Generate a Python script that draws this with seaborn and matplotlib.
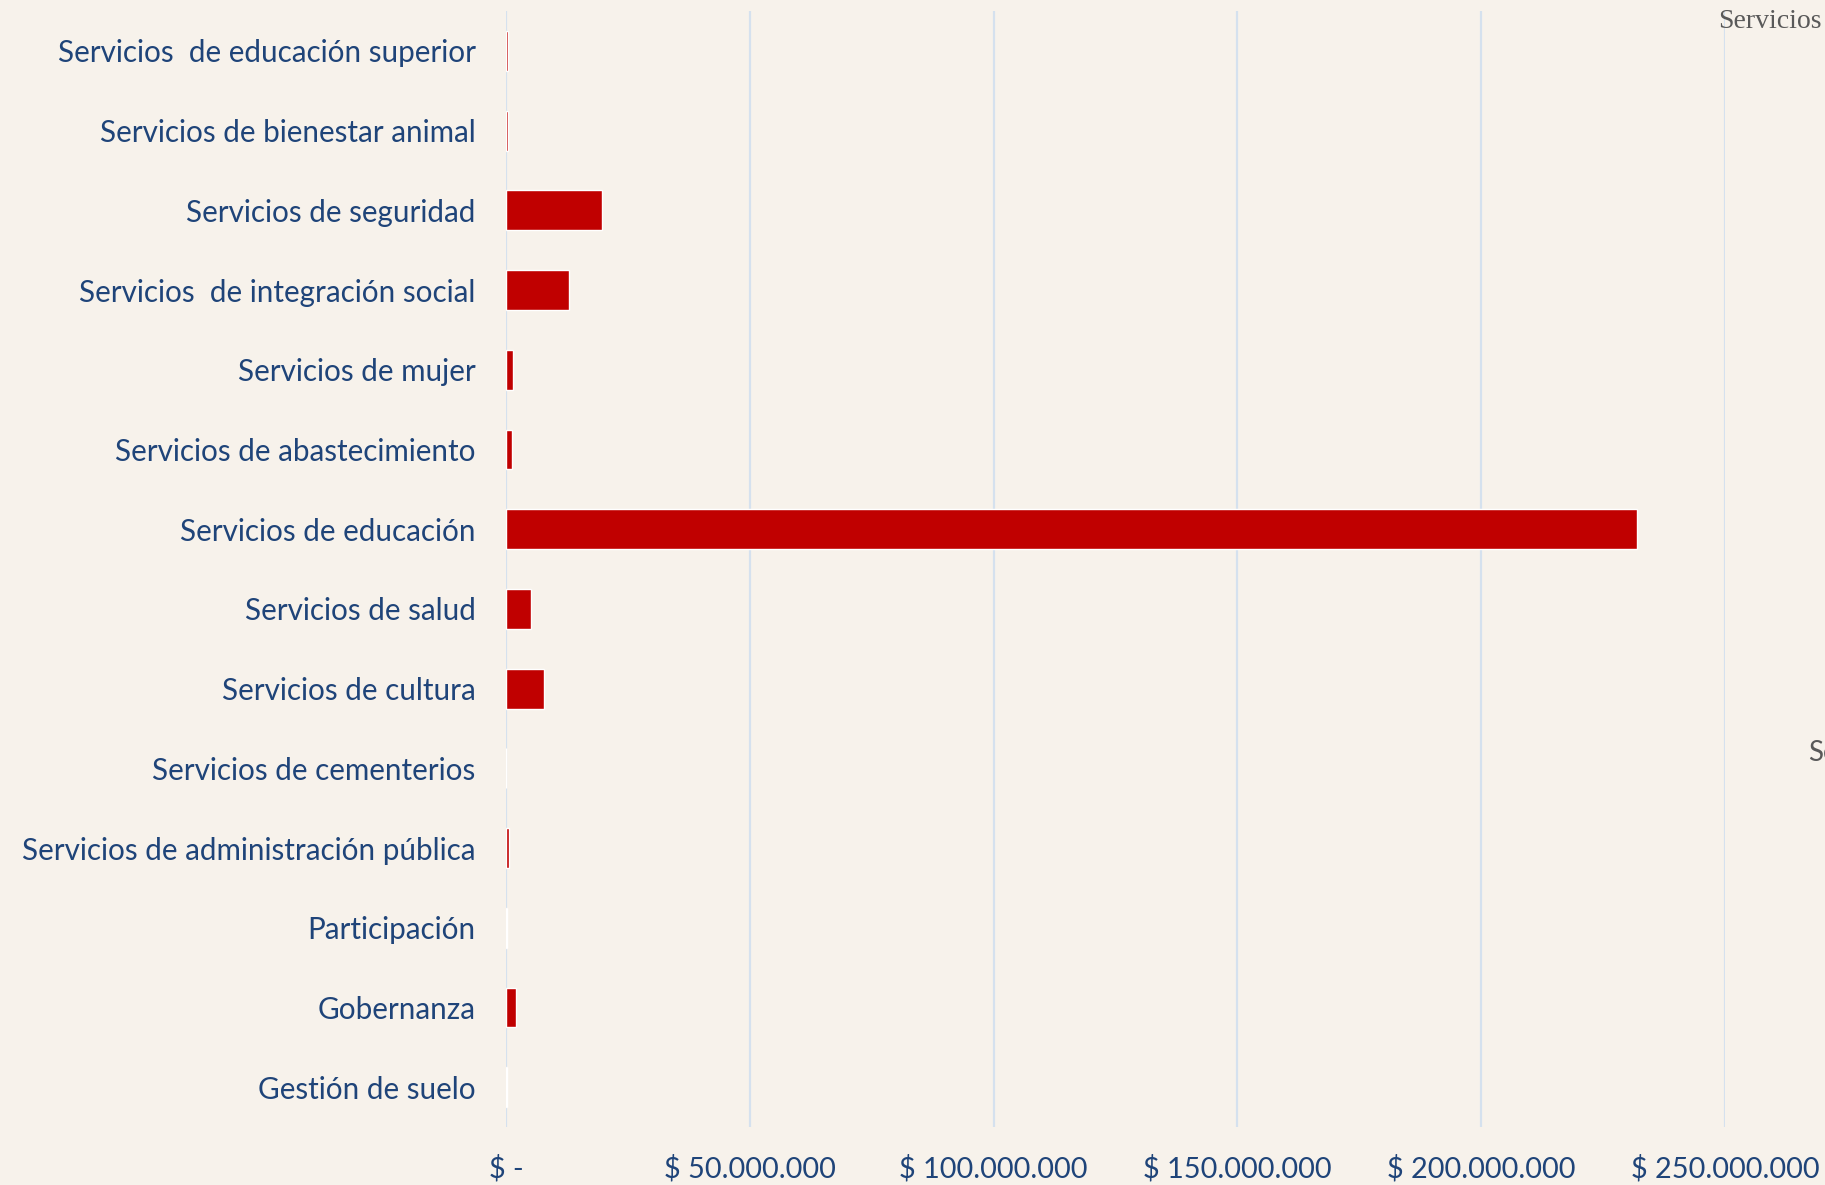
import matplotlib
matplotlib.use("Agg")
import matplotlib.pyplot as plt
import seaborn as sns
import pandas as pd

categories = [
    "Servicios  de educación superior",
    "Servicios de bienestar animal",
    "Servicios de seguridad",
    "Servicios  de integración social",
    "Servicios de mujer",
    "Servicios de abastecimiento",
    "Servicios de educación",
    "Servicios de salud",
    "Servicios de cultura",
    "Servicios de cementerios",
    "Servicios de administración pública",
    "Participación",
    "Gobernanza",
    "Gestión de suelo",
]
values = [400000, 350000, 19600000, 12850000, 1370000, 1170000, 231900000,
          5200000, 7700000, 0, 600000, 120000, 2100000, 120000]
tick_values = [0, 50000000, 100000000, 150000000, 200000000, 250000000]
tick_labels = ["$ -", "$ 50.000.000", "$ 100.000.000", "$ 150.000.000",
               "$ 200.000.000", "$ 250.000.000"]

df = pd.DataFrame({"cat": categories, "val": values})

sns.set_theme(style="white")
plt.rcParams["font.family"] = ["Lato", "DejaVu Sans"]

bg = "#F7F2EB"
fig = plt.figure(figsize=(18.25, 11.85), dpi=100, facecolor=bg)
ax = fig.add_axes([0.2773, 0.0489, 0.9452 - 0.2773, 0.9907 - 0.0489])
ax.set_facecolor(bg)

sns.barplot(data=df, x="val", y="cat", color="#C00000", width=0.5,
            saturation=1, ax=ax, orient="h")

ax.set_xlim(0, 250000000)
ax.set_ylim(13.5, -0.5)
ax.set_xticks(tick_values)
ax.set_xticklabels(tick_labels)
ax.xaxis.grid(True, color="#D5E1EE", linewidth=1.6)
ax.set_axisbelow(True)
for s in ax.spines.values():
    s.set_visible(False)
ax.set_xlabel("")
ax.set_ylabel("")
txtcol = "#1F4479"
ax.tick_params(axis="y", length=0, pad=22, labelsize=21.3, labelcolor=txtcol)
ax.tick_params(axis="x", length=0, pad=20, labelsize=20.8, labelcolor=txtcol)

fig.text(1718 / 1825, 1 - 21 / 1185, "Servicios", family=["Liberation Serif", "DejaVu Serif"],
         fontsize=20, color="#595959", ha="left", va="center")
fig.text(1808 / 1825, 1 - 753 / 1185, "Se", family=["Lato", "DejaVu Sans"],
         fontsize=20, color="#595959", ha="left", va="center")

fig.savefig("out.png", dpi=100, facecolor=bg)
